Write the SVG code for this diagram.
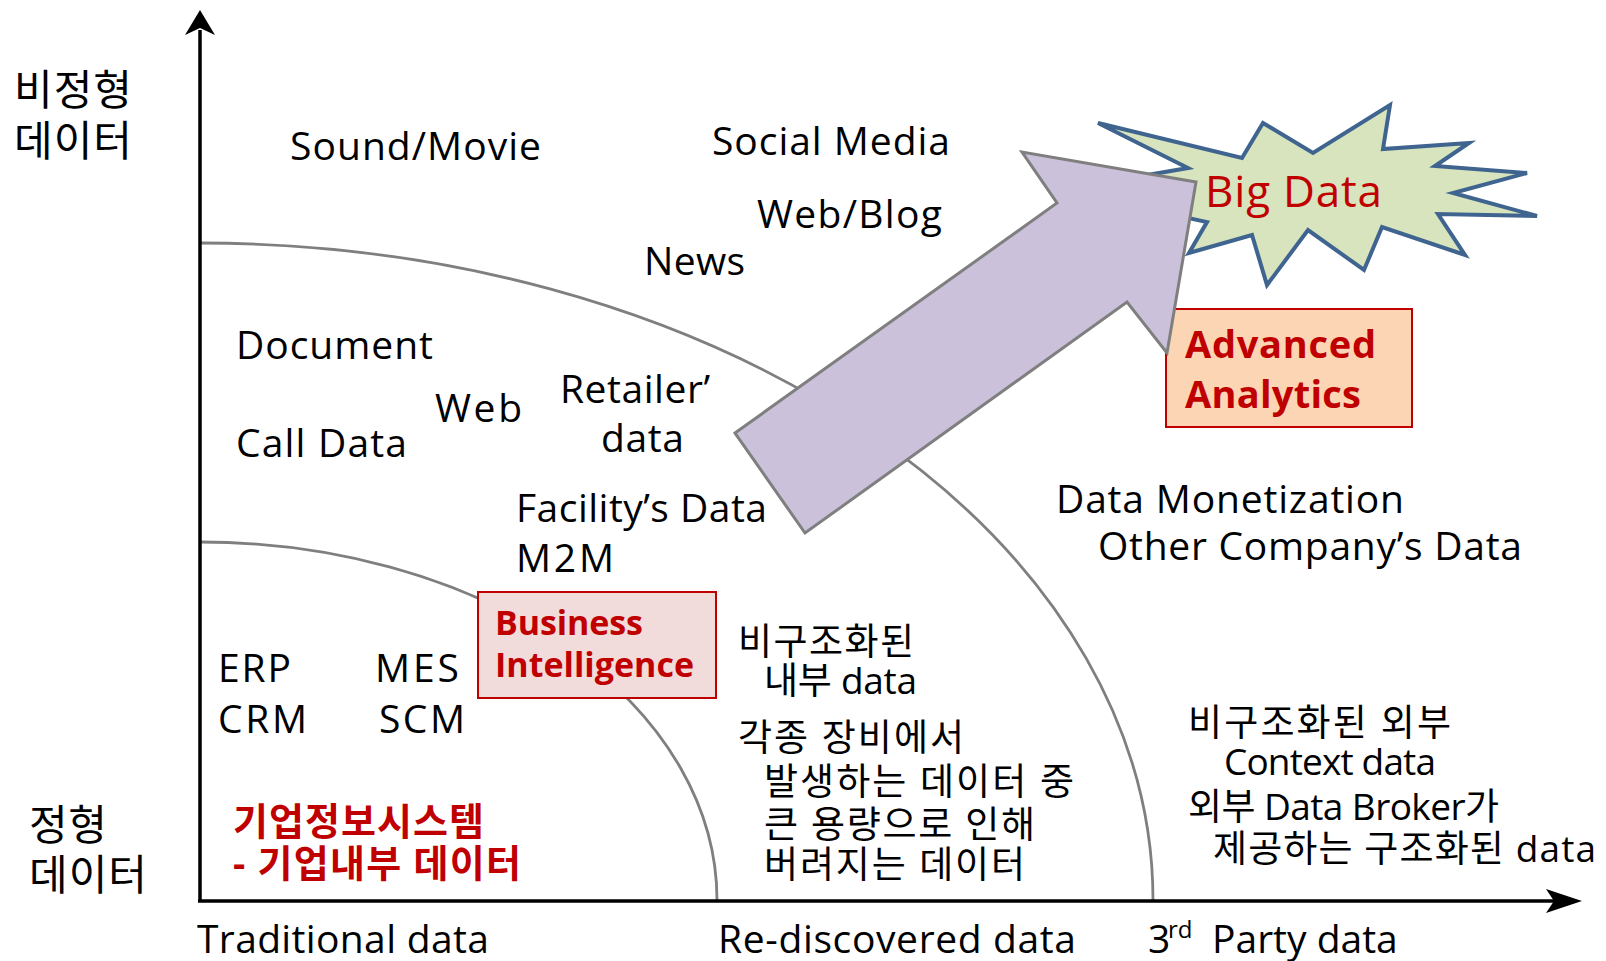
<svg xmlns="http://www.w3.org/2000/svg" width="1606" height="961" viewBox="0 0 1606 961">
<style>
.t{font-family:"Open Sans","Noto Sans CJK KR",sans-serif;font-size:39px;fill:#000}
.k{font-family:"Open Sans","Noto Sans CJK KR",sans-serif;font-size:37px;fill:#000}
.ax{font-family:"Noto Sans CJK KR",sans-serif;font-size:42px;fill:#000}
.rk{font-family:"Open Sans","Noto Sans CJK KR",sans-serif;font-size:38px;font-weight:bold;fill:#c00000}
.rb{font-family:"Open Sans",sans-serif;font-weight:bold;fill:#c00000}
.arc{fill:none;stroke:#7f7f7f;stroke-width:2.8}
.axis{stroke:#000;stroke-width:3.5;fill:none}
</style>
<rect x="0" y="0" width="1606" height="961" fill="#fff"/>

<g id="arcs">
  <path class="arc" d="M200 243 A953 657 0 0 1 1153 900"/>
  <path class="arc" d="M200 542 A517 358 0 0 1 717 900"/>
</g>

<g id="axes">
  <line class="axis" x1="200" y1="30" x2="200" y2="902"/>
  <line class="axis" x1="198" y1="901" x2="1560" y2="901"/>
  <path d="M200 10 L215 35 L200 28 L185 35 Z" fill="#000"/>
  <path d="M1582 901 L1546 889 L1554 901 L1546 913 Z" fill="#000"/>
</g>

<g id="bigdata">
  <polygon points="1098,123 1242,158 1263,123 1313,153 1390,105 1383,149 1469,143 1435,166 1527,173 1453,193 1537,216 1438,214 1465,255 1382,227 1364,270 1308,230 1267,285 1252,235 1189,253 1207,222 1060,190 1188,168" fill="#d7e4bd" stroke="#3f6490" stroke-width="4" stroke-linejoin="miter"/>
  <text class="rb" x="1205" y="207" font-size="44" style="font-weight:normal" textLength="177">Big Data</text>
</g>

<g id="advanced">
  <rect x="1166" y="309" width="246" height="118" fill="#fcd5b5" stroke="#c00000" stroke-width="2"/>
  <text class="rb" x="1185" y="358" font-size="38" textLength="191">Advanced</text>
  <text class="rb" x="1185" y="408" font-size="38" textLength="176">Analytics</text>
</g>

<g id="bi">
  <rect x="478" y="592" width="238" height="106" fill="#f2dcdb" stroke="#c00000" stroke-width="2"/>
  <text class="rb" x="495" y="635" font-size="34" textLength="148">Business</text>
  <text class="rb" x="495" y="677" font-size="34" textLength="199">Intelligence</text>
</g>

<g id="arrow">
  <polygon points="735,433 1057,203 1022,152 1196,182 1167,353 1127,302 805,533" fill="#ccc1da" stroke="#7f7f7f" stroke-width="3" stroke-linejoin="miter"/>
</g>

<g id="ylabels">
  <text class="ax" x="14" y="105" textLength="118">비정형</text>
  <text class="ax" x="14" y="156" textLength="118">데이터</text>
  <text class="ax" x="29" y="840" textLength="78">정형</text>
  <text class="ax" x="29" y="890" textLength="118">데이터</text>
</g>

<g id="unstructured">
  <text class="t" x="290" y="160" textLength="251">Sound/Movie</text>
  <text class="t" x="712" y="155" textLength="238">Social Media</text>
  <text class="t" x="757" y="228" textLength="185">Web/Blog</text>
  <text class="t" x="644" y="275" textLength="101">News</text>
</g>

<g id="rediscovered">
  <text class="t" x="236" y="359" textLength="197">Document</text>
  <text class="t" x="435" y="422" textLength="87">Web</text>
  <text class="t" x="236" y="457" textLength="171">Call Data</text>
  <text class="t" x="560" y="403" textLength="150">Retailer’</text>
  <text class="t" x="601" y="452" textLength="83">data</text>
  <text class="t" x="516" y="522" textLength="251">Facility’s Data</text>
  <text class="t" x="516" y="572" textLength="98">M2M</text>
</g>

<g id="thirdparty">
  <text class="t" x="1056" y="513" textLength="348">Data Monetization</text>
  <text class="t" x="1098" y="560" textLength="424">Other Company’s Data</text>
</g>

<g id="traditional">
  <text class="t" x="218" y="682" font-size="40" textLength="73">ERP</text>
  <text class="t" x="375" y="682" font-size="40" textLength="84">MES</text>
  <text class="t" x="218" y="733" font-size="40" textLength="89">CRM</text>
  <text class="t" x="379" y="733" font-size="40" textLength="86">SCM</text>
  <text class="rk" x="233" y="835" textLength="251">기업정보시스템</text>
  <text class="rk" x="233" y="877" textLength="288">- 기업내부 데이터</text>
</g>

<g id="middle-desc">
  <text class="k" x="738" y="655" textLength="176">비구조화된</text>
  <text class="k" x="764" y="694" textLength="153">내부 data</text>
  <text class="k" x="738" y="751" textLength="226">각종 장비에서</text>
  <text class="k" x="764" y="795" textLength="310">발생하는 데이터 중</text>
  <text class="k" x="764" y="838" textLength="271">큰 용량으로 인해</text>
  <text class="k" x="764" y="878" textLength="261">버려지는 데이터</text>
</g>

<g id="right-desc">
  <text class="k" x="1188" y="736" textLength="263">비구조화된 외부</text>
  <text class="k" x="1224" y="775" font-size="35" textLength="212">Context data</text>
  <text class="k" x="1188" y="820" textLength="311">외부 Data Broker가</text>
  <text class="k" x="1213" y="862" textLength="383">제공하는 구조화된 data</text>
</g>

<g id="xlabels">
  <text class="t" x="197" y="953" textLength="292">Traditional data</text>
  <text class="t" x="718" y="953" textLength="358">Re-discovered data</text>
  <text class="t"><tspan x="1148" y="953">3</tspan><tspan x="1168" y="938" font-size="24">rd</tspan><tspan x="1212" y="953">Party data</tspan></text>
</g>
</svg>
